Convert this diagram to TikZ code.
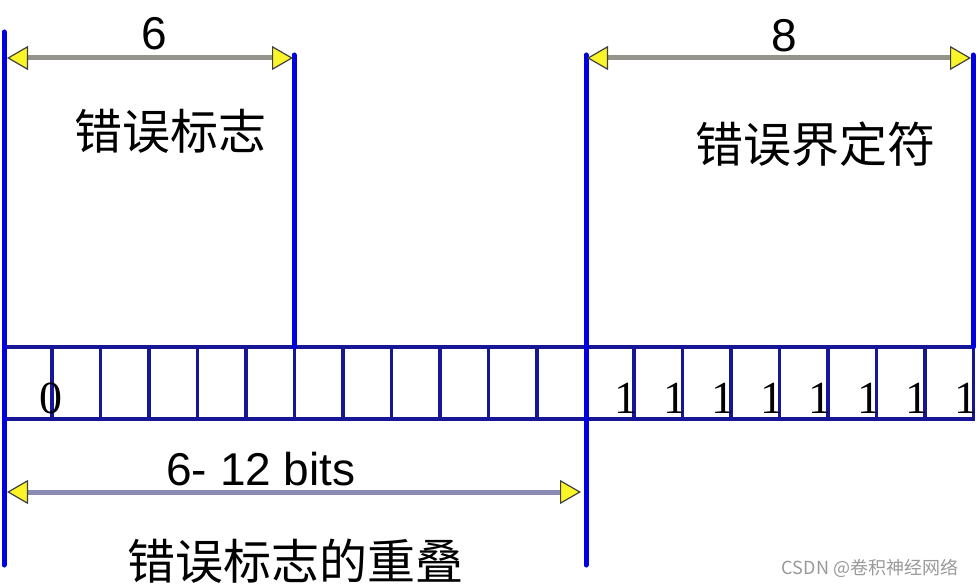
\documentclass[tikz,border=0pt]{standalone}
\usepackage{fontspec}
\setmainfont{Liberation Serif}
\setsansfont{Liberation Sans}
\newfontfamily\cjk{Noto Sans CJK SC}
\usetikzlibrary{arrows.meta}
\definecolor{cellblue}{RGB}{22,22,150}
\definecolor{barblue}{RGB}{0,0,225}
\definecolor{shaftgray}{RGB}{148,148,140}
\definecolor{shaftblue}{RGB}{138,138,178}
\definecolor{tipyellow}{RGB}{250,245,40}
\tikzset{yeltip/.tip={Triangle[length=21pt,width=24pt,fill=tipyellow,color=black!75,line width=1.2pt]}}

\begin{document}
\begin{tikzpicture}[x=1pt,y=-1pt,
  cell/.style={cellblue,line width=3.2pt},
  bar/.style={barblue,line width=5pt,line cap=round},
  span/.style={line width=5pt,yeltip-yeltip},
  num/.style={font=\sffamily\fontsize{46}{50}\selectfont,inner sep=0pt,anchor=base},
  bit/.style={font=\fontsize{46}{50}\selectfont,inner sep=0pt},
  zh/.style={font=\cjk\fontsize{48}{52}\selectfont,inner sep=0pt}]
\useasboundingbox (0,0) rectangle (980,588);
% bit row
\draw[cell] (2,347)--(975,347) (2,419)--(975,419);
\foreach \i in {0,...,20}{\draw[cell] ({3.5+48.5*\i},347)--++(0,72);}
\node[bit,anchor=base] (b0) at (50.5,413){0};
\foreach \i in {13,...,20}{\node[bit,anchor=base east] (b\i) at ({3.5+48.5*\i+4},413){1};}
% field borders
\draw[bar] (4,32)--(4,565) (294,55)--(294,347) (586,55)--(586,565) (973,55)--(973,347);
% spans
\coordinate (flagL) at (7,58);\coordinate (flagR) at (293,58);
\coordinate (delimL) at (587,58);\coordinate (delimR) at (971,58);
\coordinate (ovL) at (7,492);\coordinate (ovR) at (581,492);
\draw[span,shaftgray] (flagL)--(flagR);
\draw[span,shaftgray] (delimL)--(delimR);
\draw[span,shaftblue] (ovL)--(ovR);
\node[num] (six) at (154,50){6};
\node[num] (eight) at (784,52){8};
\node[num] (bits) at (261,485){6- 12 bits};
% labels
\node[zh] (flagtxt) at (170,131){错误标志};
\node[zh] (delimtxt) at (815,144){错误界定符};
\node[zh] (overlaptxt) at (295,561){错误标志的重叠};
\node[font=\cjk\fontsize{18}{20}\selectfont,text=black!40,inner sep=0pt] (mark) at (870,568){CSDN @卷积神经网络};
\end{tikzpicture}
\end{document}
